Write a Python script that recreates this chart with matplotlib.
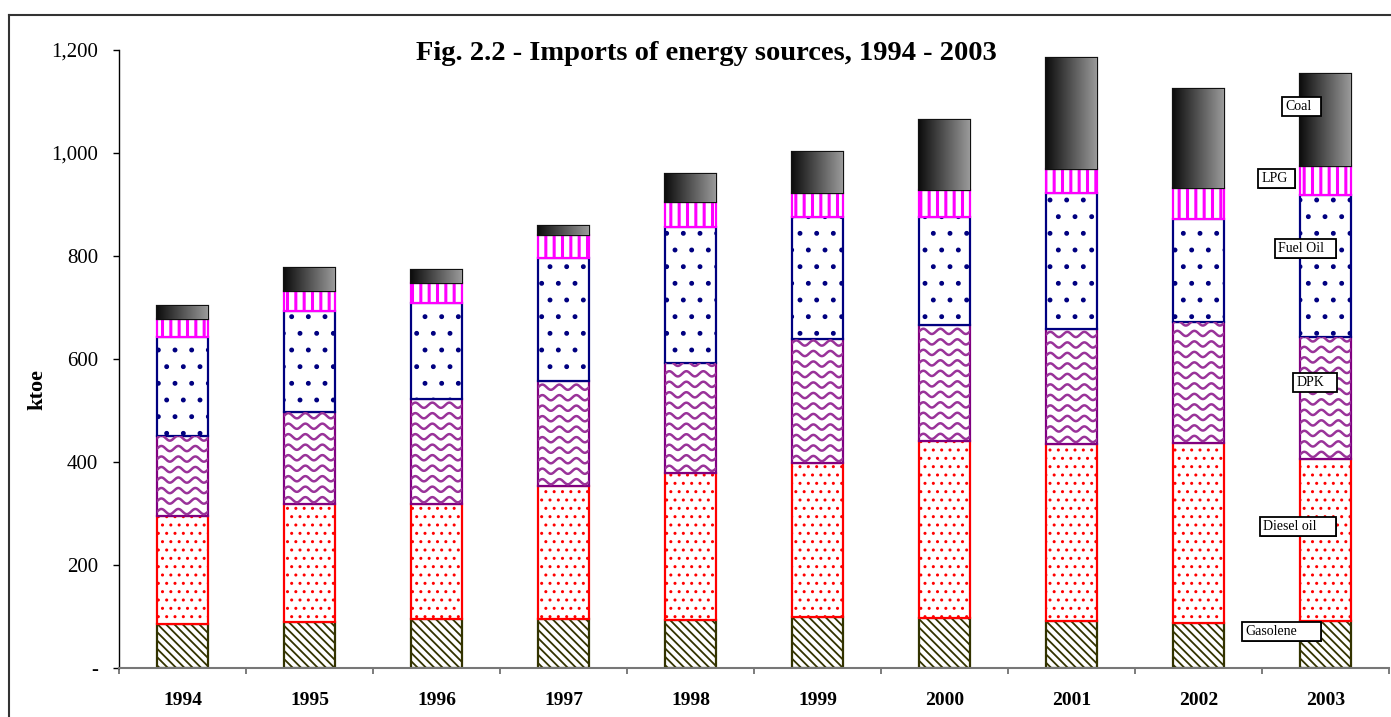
import numpy as np
import matplotlib
matplotlib.use("Agg")
import matplotlib.pyplot as plt
from matplotlib.patches import Rectangle
from matplotlib.lines import Line2D
from matplotlib.colors import LinearSegmentedColormap

plt.rcParams['font.family'] = ['Liberation Serif', 'DejaVu Serif']

years = ['1994', '1995', '1996', '1997', '1998', '1999', '2000', '2001', '2002', '2003']
gasolene = [85, 89, 95, 95, 93, 99, 97, 91, 87, 91]
diesel = [210, 229, 223, 258, 286, 299, 344, 344, 350, 315]
dpk = [155, 179, 204, 204, 213, 241, 225, 223, 235, 237]
fuel_oil = [193, 196, 187, 239, 264, 237, 210, 264, 200, 275]
lpg = [35, 39, 39, 45, 49, 46, 52, 47, 60, 57]
coal = [25, 45, 25, 17, 54, 80, 136, 215, 192, 178]
source_names = ['Gasolene', 'Diesel oil', 'DPK', 'Fuel Oil', 'LPG', 'Coal']
yticks = [0, 200, 400, 600, 800, 1000, 1200]

# label boxes next to the 2003 bar (left edge x, centre y, box width)
lab_x = [8.346, 8.488, 8.748, 8.606, 8.472, 8.661]
lab_y = [70, 274, 555, 814, 950, 1091]
lab_w = [0.622, 0.598, 0.339, 0.480, 0.291, 0.307]

W, H = 1391, 717
fig = plt.figure(figsize=(W / 100, H / 100), dpi=100)
ax = fig.add_axes([119 / W, 1 - 668 / H, 1270 / W, 618 / H])

x = np.arange(len(years))
bw = 0.4
series = [gasolene, diesel, dpk, fuel_oil, lpg, coal]
styles = [
    dict(fc='white', ec='#333300', hc='#4d4d26', hatch='\\\\\\\\', hlw=1.3),
    dict(fc='white', ec='#ff0000', hc='#ff3333', hatch='..', hlw=1.0),
    dict(fc='white', ec='#800080', hc=None, hatch=None, hlw=1.0),
    dict(fc='white', ec='#000080', hc='#3333a0', hatch='.', hlw=1.1),
    dict(fc='white', ec='#ff00ff', hc='#ff00ff', hatch='||', hlw=2.2),
    dict(fc='none', ec='#111111', hc=None, hatch=None, hlw=1.0),
]

bottom = np.zeros(len(years))
containers = []
for vals, st in zip(series, styles):
    plt.rcParams['hatch.linewidth'] = st['hlw']
    bars = ax.bar(x, vals, bw, bottom=bottom, color=st['fc'], edgecolor=st['ec'],
                  linewidth=1.6, hatch=st['hatch'], zorder=3)
    for b in bars:
        if hasattr(b, 'set_hatch_linewidth'):
            b.set_hatch_linewidth(st['hlw'])
    containers.append((bars, bottom.copy(), np.array(vals)))
    bottom += np.array(vals)

# wavy pattern for DPK
px_y = 1200 / 618
px_x = 1 / 127
bars, bots, vals = containers[2]
for b, b0, v in zip(bars, bots, vals):
    x0 = b.get_x()
    xx = np.linspace(x0, x0 + bw, 200)
    yy0 = b0 - 6 * px_y
    while yy0 < b0 + v + 6 * px_y:
        line, = ax.plot(xx, yy0 + 2.6 * px_y * np.sin(2 * np.pi * (xx - x0) / (17 * px_x)),
                        color='#993399', lw=1.8, zorder=3.5)
        line.set_clip_path(b)
        yy0 += 10.5 * px_y

# gradient for coal
cmap = LinearSegmentedColormap.from_list('coalgrad', ['#0d0d0d', '#9a9a9a'])
grad = np.linspace(0, 1, 256).reshape(1, -1)
bars, bots, vals = containers[5]
for b, b0, v in zip(bars, bots, vals):
    im = ax.imshow(grad, cmap=cmap, aspect='auto', extent=[b.get_x(), b.get_x() + bw, b0, b0 + v],
                   zorder=3.2, interpolation='bilinear')
    im.set_clip_path(b)

ax.set_xlim(-0.5, 9.5)
ax.set_ylim(0, 1200)

ax.set_yticks(yticks)
ax.set_yticklabels(['-' if t == 0 else f'{t:,}' for t in yticks])
ax.tick_params(axis='y', direction='out', length=4, width=1, pad=11, labelsize=15)
ax.set_xticks(x)
ax.set_xticklabels(years, fontweight='bold')
ax.set_xticks(np.arange(-0.5, 10, 1), minor=True)
ax.tick_params(axis='x', which='major', length=0, pad=17, labelsize=14)
ax.tick_params(axis='x', which='minor', direction='out', length=4, width=1.2, color='#666666')

for s in ['top', 'right']:
    ax.spines[s].set_visible(False)
ax.spines['left'].set_linewidth(1)
ax.spines['bottom'].set_color('#777777')
ax.spines['bottom'].set_linewidth(1.5)
ax.spines['bottom'].set_zorder(4)

ax.set_ylabel('ktoe', fontsize=16, fontweight='bold')
ax.yaxis.set_label_coords(-0.056, 0.45)

fig.text(706 / W, 1 - 53 / H, 'Fig. 2.2 - Imports of energy sources, 1994 - 2003',
         ha='center', va='center', fontsize=20.5, fontweight='bold')

box_h = 19 * px_y
for name, lx, ly, lw in zip(source_names, lab_x, lab_y, lab_w):
    ax.add_patch(Rectangle((lx + 0.8 * px_x, ly - box_h / 2 - 0.8 * px_y), lw, box_h,
                           fc='#222222', ec='none', zorder=5, clip_on=False))
    ax.add_patch(Rectangle((lx, ly - box_h / 2), lw, box_h, fc='white', ec='black',
                           lw=1.3, zorder=6, clip_on=False))
    ax.text(lx + 3 * px_x, ly, name, ha='left', va='center', fontsize=10, zorder=7)

# frame around the chart
fig.add_artist(Line2D([9 / W, 9 / W], [-0.01, 1 - 15 / H], transform=fig.transFigure,
                      color='#333333', lw=1.5))
fig.add_artist(Line2D([9 / W, 1.01], [1 - 15 / H, 1 - 15 / H], transform=fig.transFigure,
                      color='#333333', lw=1.5))

fig.savefig('out.png', dpi=100)
